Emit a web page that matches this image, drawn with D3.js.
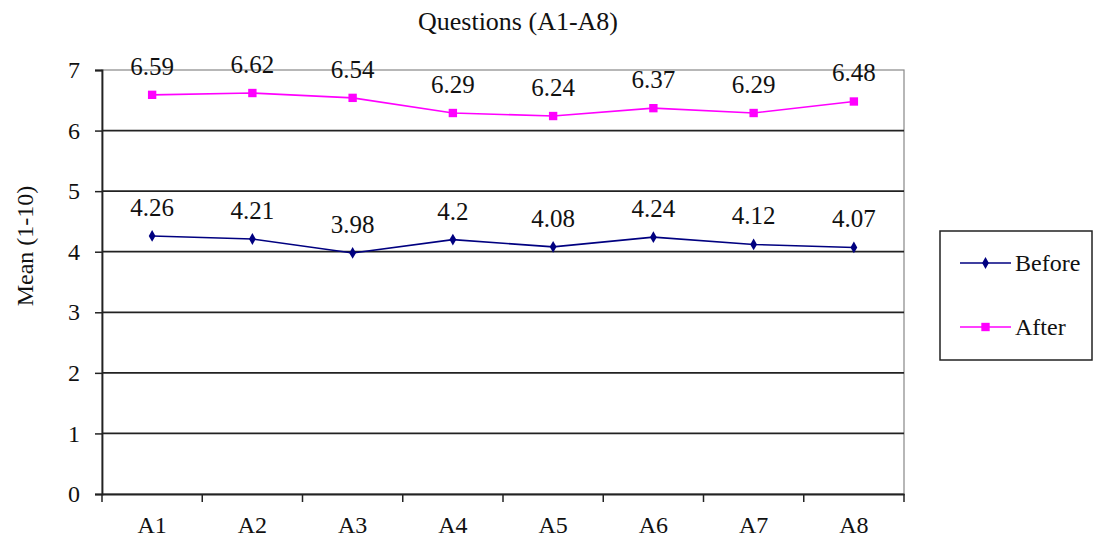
<!DOCTYPE html>
<html>
<head>
<meta charset="utf-8">
<script src="https://cdn.jsdelivr.net/npm/d3@7"></script>
<style>
body { margin: 0; background: #fff; }
</style>
</head>
<body>
<svg id="chart" width="1093" height="538" font-family="Liberation Serif"></svg>
<script>
const categories = ["A1", "A2", "A3", "A4", "A5", "A6", "A7", "A8"];
const beforeValues = [4.26, 4.21, 3.98, 4.2, 4.08, 4.24, 4.12, 4.07];
const afterValues = [6.59, 6.62, 6.54, 6.29, 6.24, 6.37, 6.29, 6.48];
const yTicks = [0, 1, 2, 3, 4, 5, 6, 7];
const seriesNames = ["Before", "After"];
const chartTitle = "Questions (A1-A8)";
const yTitle = "Mean (1-10)";

(function () {
const FONT = "Liberation Serif";
const svg = d3.select("#chart");
const pLeft = 102, pRight = 904, pTop = 70, pBottom = 494;

const x = d3.scaleBand().domain(categories).range([pLeft, pRight]).padding(0);
const y = d3.scaleLinear().domain([0, 7]).range([pBottom, pTop]);

// plot border (gray)
svg.append("rect").attr("x", pLeft).attr("y", pTop).attr("width", pRight - pLeft).attr("height", pBottom - pTop)
  .attr("fill", "none").attr("stroke", "#888").attr("stroke-width", 1.2);

// gridlines
svg.append("g").selectAll("line").data(yTicks.filter(d => d > 0 && d < 7)).join("line")
  .attr("x1", pLeft).attr("x2", pRight).attr("y1", d => y(d)).attr("y2", d => y(d))
  .attr("stroke", "#222").attr("stroke-width", 1.8);

// y axis
const yAxis = svg.append("g").attr("transform", `translate(${pLeft},0)`)
  .call(d3.axisLeft(y).tickValues(yTicks).tickSize(7).tickPadding(15).tickFormat(d3.format("d")));
yAxis.attr("font-family", FONT).attr("font-size", 24);
yAxis.select(".domain").attr("stroke", "#222").attr("stroke-width", 1.8);
yAxis.selectAll(".tick line").attr("stroke", "#222").attr("stroke-width", 1.5);
yAxis.selectAll("text").attr("fill", "#111");

// x axis
const xAxis = svg.append("g").attr("transform", `translate(0,${pBottom})`)
  .call(d3.axisBottom(x).tickSize(0).tickPadding(22));
xAxis.attr("font-family", FONT).attr("font-size", 24);
xAxis.select(".domain").attr("stroke", "#222").attr("stroke-width", 1.8);
xAxis.selectAll("text").attr("fill", "#111");
// category boundary ticks
const bounds = categories.map(c => x(c)).concat([pRight]);
svg.append("g").selectAll("line").data(bounds).join("line")
  .attr("x1", d => d).attr("x2", d => d).attr("y1", pBottom).attr("y2", pBottom + 8)
  .attr("stroke", "#222").attr("stroke-width", 1.5);

// title
svg.append("text").attr("x", 518).attr("y", 30).attr("text-anchor", "middle")
  .attr("font-family", FONT).attr("font-size", 26).attr("fill", "#111").text(chartTitle);
// y title
svg.append("text").attr("transform", `translate(33,246) rotate(-90)`)
  .attr("text-anchor", "middle").attr("font-family", FONT).attr("font-size", 24).attr("fill", "#111").text(yTitle);

const cx = d => x(d) + x.bandwidth() / 2;
const line = d3.line().x(d => cx(d.c)).y(d => y(d.v));
const series = [
  { name: seriesNames[0], values: beforeValues, color: "#000080", marker: "diamond" },
  { name: seriesNames[1], values: afterValues, color: "#FF00FF", marker: "square" }
];

series.forEach(s => {
  const pts = categories.map((c, i) => ({ c, v: s.values[i] }));
  svg.append("path").datum(pts).attr("d", line).attr("fill", "none")
    .attr("stroke", s.color).attr("stroke-width", 1.6);
  const sym = s.marker === "diamond" ? d3.symbol(d3.symbolDiamond, 40) : d3.symbol(d3.symbolSquare, 70);
  svg.append("g").selectAll("path").data(pts).join("path")
    .attr("d", sym).attr("transform", d => `translate(${cx(d.c)},${y(d.v)})`).attr("fill", s.color);
  svg.append("g").selectAll("text").data(pts).join("text")
    .attr("x", d => cx(d.c)).attr("y", d => y(d.v) - 20).attr("text-anchor", "middle")
    .attr("font-family", FONT).attr("font-size", 25).attr("fill", "#111").text(d => d.v);
});

// legend
const lg = svg.append("g");
lg.append("rect").attr("x", 940).attr("y", 231).attr("width", 152).attr("height", 129)
  .attr("fill", "#fff").attr("stroke", "#222").attr("stroke-width", 1.5);
series.forEach((s, i) => {
  const ly = 263 + i * 64;
  lg.append("line").attr("x1", 960).attr("x2", 1011).attr("y1", ly).attr("y2", ly)
    .attr("stroke", s.color).attr("stroke-width", 1.6);
  const sym = s.marker === "diamond" ? d3.symbol(d3.symbolDiamond, 40) : d3.symbol(d3.symbolSquare, 70);
  lg.append("path").attr("d", sym).attr("transform", `translate(985.5,${ly})`).attr("fill", s.color);
  lg.append("text").attr("x", 1015).attr("y", ly + 8).attr("font-family", FONT).attr("font-size", 24)
    .attr("fill", "#111").text(s.name);
});
})();
</script>
</body>
</html>
